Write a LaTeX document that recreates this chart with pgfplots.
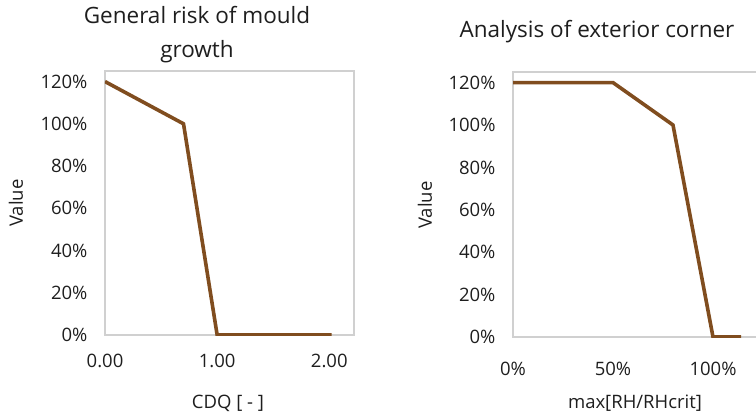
\documentclass[border=0pt]{standalone}
\usepackage{pgfplots}
\pgfplotsset{compat=1.18}
\usepackage{fontspec}
\setmainfont{Open Sans}
\definecolor{linebrown}{RGB}{128,77,31}
\definecolor{framegray}{RGB}{208,208,208}
\definecolor{txt}{RGB}{30,30,30}
\pgfplotsset{
  panel/.style={
    scale only axis,
    anchor=south west,
    ymin=0, ymax=1.25,
    ytick={0,0.2,0.4,0.6,0.8,1.0,1.2},
    yticklabel={\pgfmathparse{\tick*100}\pgfmathprintnumber[fixed,precision=0]{\pgfmathresult}\%},
    major tick length=0pt,
    axis line style={framegray, line width=1.3pt},
    tick label style={font=\fontsize{18.5}{22}\selectfont, text=txt},
    yticklabel style={xshift=-14pt},
    /pgf/number format/assume math mode=true,
  },
}
\begin{document}
\begin{tikzpicture}[x=1pt,y=1pt]
\useasboundingbox (0,0) rectangle (756,416);
\clip (0,0) rectangle (756,416);

% left panel
\begin{axis}[panel,
    at={(105pt,81pt)},
    width=249pt, height=264pt,
    xmin=0, xmax=2.22,
    xtick={0,1,2},
    xticklabel style={/pgf/number format/.cd, fixed, fixed zerofill, precision=2, /tikz/.cd, yshift=-16pt},
  ]
\addplot[linebrown, line width=3.6pt, line join=miter] coordinates {
  (0,1.2) (0.7,1.0) (1.0,0) (2.02,0)
};
\end{axis}

% right panel
\begin{axis}[panel,
    at={(513pt,79pt)},
    width=260pt, height=265pt,
    xmin=0, xmax=1.3,
    xtick={0,0.5,1},
    xticklabel={\pgfmathparse{\tick*100}\pgfmathprintnumber[fixed,precision=0]{\pgfmathresult}\%},
    xticklabel style={yshift=-22pt},
  ]
\addplot[linebrown, line width=3.6pt, line join=miter] coordinates {
  (0,1.2) (0.5,1.2) (0.8,1.0) (1.0,0) (1.14,0)
};
\end{axis}

% titles and axis labels
\begin{scope}[every node/.style={text=txt, inner sep=0pt}]
\node[align=center, font=\fontsize{22.5}{34}\selectfont] at (197,381) {General risk of mould\\growth};
\node[font=\fontsize{22.5}{27}\selectfont] at (597,384) {Analysis of exterior corner};
\node[rotate=90, font=\fontsize{18.5}{22}\selectfont] at (16,213) {Value};
\node[rotate=90, font=\fontsize{18.5}{22}\selectfont] at (425,211) {Value};
\node[font=\fontsize{18.5}{22}\selectfont] at (228,13) {CDQ [ - ]};
\node[font=\fontsize{18.5}{22}\selectfont] at (635,13) {max[RH/RHcrit]};
\end{scope}
\end{tikzpicture}
\end{document}
